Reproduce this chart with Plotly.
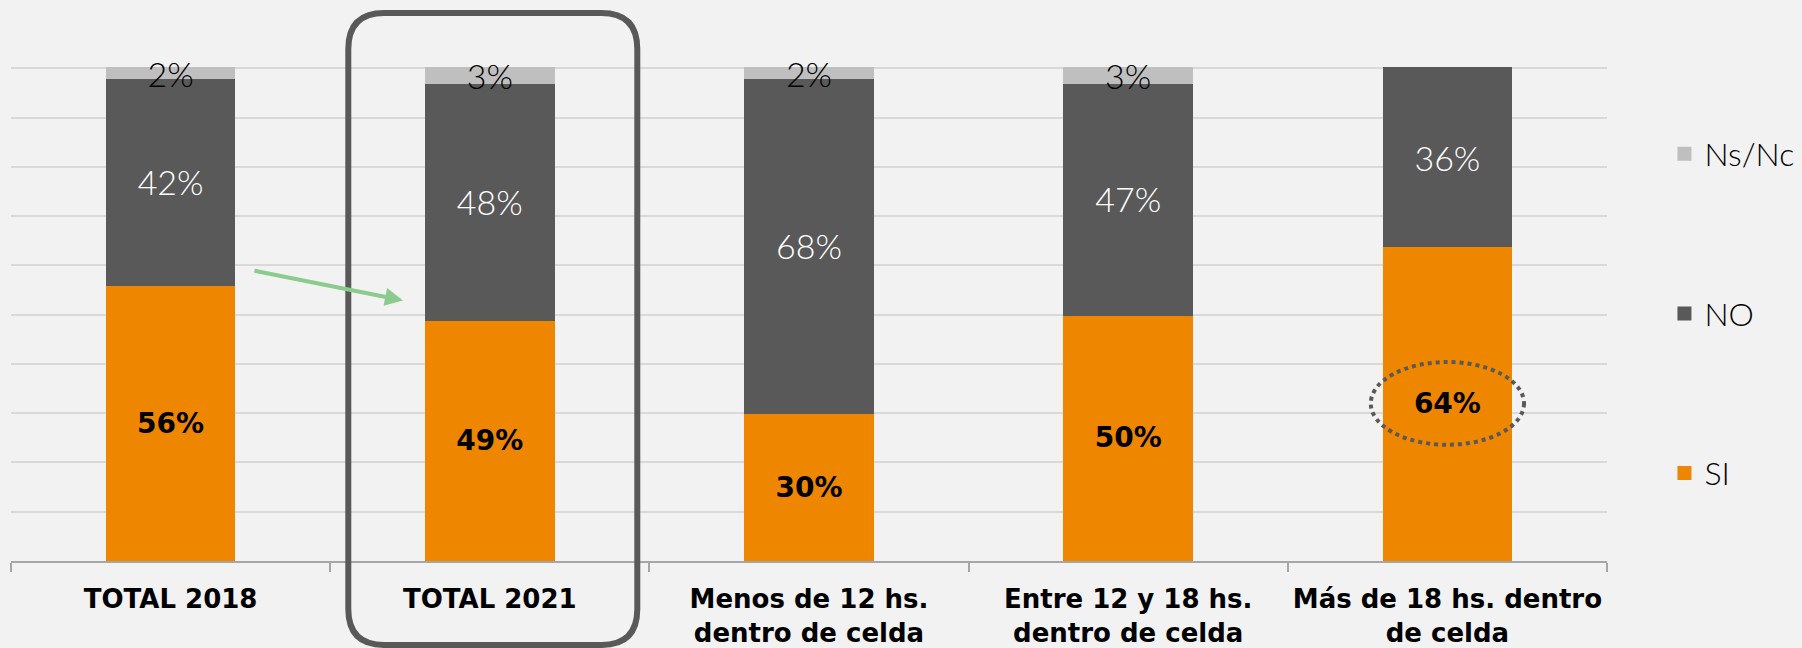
import plotly.graph_objects as go

categories = ["TOTAL 2018", "TOTAL 2021", "Menos de 12 hs.<br>dentro de celda",
              "Entre 12 y 18 hs.<br>dentro de celda", "Más de 18 hs. dentro<br>de celda"]
si = [56, 49, 30, 50, 64]
no = [42, 48, 68, 47, 36]
nsnc = [2, 3, 2, 3, 0]

W, H = 1802, 648
L, R, T, B = 11, 195, 66, 87
PW, PH = W - L - R, H - T - B

LIGHT = "Lato"
BOLD = "DejaVu Sans"

def labels(vals):
    return [f"{v}%" if v else "" for v in vals]

fig = go.Figure()
series = [
    ("SI", si, "#EE8600", dict(family=BOLD, size=28, color="black", weight=700), 3),
    ("NO", no, "#595959", dict(family=LIGHT, size=34, color="white", weight=300), 2),
    ("Ns/Nc", nsnc, "#BFBFBF", dict(family=LIGHT, size=34, color="black", weight=300), 1),
]
for name, vals, color, tf, rank in series:
    fig.add_trace(go.Bar(
        x=categories, y=vals, name=name, legendgroup=name, legendrank=rank,
        marker=dict(color=color, line=dict(width=[2 if v else 0 for v in vals], color=color)),
        text=labels(vals), textposition="inside", insidetextanchor="middle",
        textangle=0, constraintext="none", insidetextfont=tf, cliponaxis=False,
        hoverinfo="skip",
    ))

def px_x(X):
    return (X - L) / PW

def px_y(Y):
    return (H - B - Y) / PH

# rounded rectangle around TOTAL 2021
cx = L + (1 + 0.5) / len(categories) * PW + 3
lft, rgt, top, bot, rad = cx - 144.5, cx + 144.5, 13, 645, 36
pts = [
    ("M", lft + rad, top), ("L", rgt - rad, top), ("Q", rgt, top, rgt, top + rad),
    ("L", rgt, bot - rad), ("Q", rgt, bot, rgt - rad, bot), ("L", lft + rad, bot),
    ("Q", lft, bot, lft, bot - rad), ("L", lft, top + rad), ("Q", lft, top, lft + rad, top),
]
path = ""
for p in pts:
    cmd, coords = p[0], p[1:]
    s = []
    for i in range(0, len(coords), 2):
        s.append(f"{px_x(coords[i]):.5f},{px_y(coords[i+1]):.5f}")
    path += cmd + " ".join(s) + " "
path += "Z"
fig.add_shape(type="path", path=path, xref="paper", yref="paper",
              line=dict(color="#595959", width=6), layer="above")

# dotted ellipse around 64%
fig.add_shape(type="circle", xref="x", yref="y",
              x0=4 - 0.24, x1=4 + 0.24, y0=si[4] / 2 - 8.4, y1=si[4] / 2 + 8.4,
              line=dict(color="#595959", width=4, dash="dot"), layer="above")

# green arrow
fig.add_annotation(x=0.728, y=52.9, ax=0.258, ay=59.0, xref="x", yref="y",
                   axref="x", ayref="y", showarrow=True, arrowhead=2,
                   arrowsize=0.9, arrowwidth=4, arrowcolor="#8CCB8E", text="")

fig.update_layout(
    width=W, height=H, barmode="stack", bargap=0.6,
    paper_bgcolor="#F2F2F2", plot_bgcolor="#F2F2F2",
    margin=dict(l=L, r=R, t=T, b=B, pad=0, autoexpand=False),
    legend=dict(orientation="v", x=1.036, xanchor="left", y=0.5, yanchor="middle",
                traceorder="grouped", tracegroupgap=115,
                font=dict(family=LIGHT, size=32, color="black", weight=300),
                bgcolor="rgba(0,0,0,0)"),
    showlegend=True,
)
fig.update_xaxes(type="category", range=[-0.5, 4.5], showline=True, linecolor="#A6A6A6",
                 linewidth=1.5, ticks="outside", tickson="boundaries", ticklen=9,
                 tickcolor="#A6A6A6", tickwidth=1.5, showgrid=False, automargin=False,
                 ticklabelstandoff=14,
                 tickfont=dict(family=BOLD, size=26, color="black", weight=700))
fig.update_yaxes(range=[0, 100.5], dtick=10, showticklabels=False, showgrid=True,
                 gridcolor="#D9D9D9", gridwidth=2, zeroline=False, showline=False,
                 automargin=False)

fig.write_html("out.html", config={"displayModeBar": False},
               post_script="document.body.style.margin='0';document.body.style.padding='0';"
                           "document.body.style.background='#F2F2F2';")
